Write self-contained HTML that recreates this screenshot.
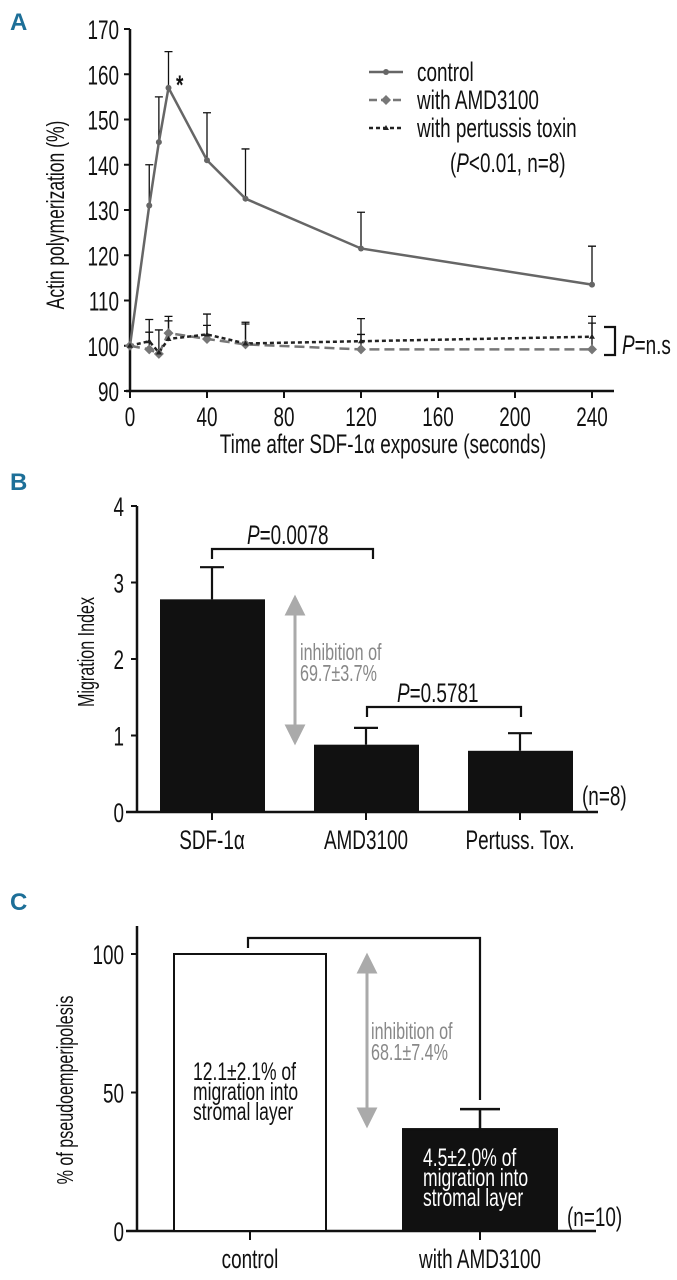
<!DOCTYPE html>
<html><head><meta charset="utf-8">
<style>
html,body{margin:0;padding:0;background:#fff;}
svg{display:block;font-family:"Liberation Sans",sans-serif;}
.t{font-size:27px;fill:#111;}
.s{font-size:23px;fill:#111;}
.a{font-size:25px;fill:#111;}
.g{font-size:23px;fill:#888;}
.pl{font-size:24px;font-weight:bold;fill:#1d6f98;}
</style></head>
<body>
<svg id="fig" width="677" height="1280" viewBox="0 0 677 1280" xmlns="http://www.w3.org/2000/svg"></svg>
<script>
// Panel A data
const aTimes=[0,10,15,20,40,60,120,240];
const aControl=[100,131,145,157,141,132.5,121.5,113.5];
const aControlErr=[100,140,155,165,151.5,143.5,129.5,122];
const aAmd=[100,99.2,98.2,102.8,101.5,100.3,99.2,99.2];
const aAmdErr=[100,103,103.5,106.5,107,105.2,106,106.5];
const aPert=[100,101,98.5,101.5,102.5,100.5,101,102];
const aPertErr=[100,105.8,98.5,105.5,104.5,104.8,102.5,105];
const aXTicks=[0,40,80,120,160,200,240];
const aYTicks=[90,100,110,120,130,140,150,160,170];
// Panel B data
const bCats=["SDF-1α","AMD3100","Pertuss. Tox."];
const bVals=[2.78,0.88,0.8];
const bErr=[3.2,1.1,1.03];
const bYTicks=[0,1,2,3,4];
// Panel C data
const cCats=["control","with AMD3100"];
const cVals=[100,36.8];
const cErr=[100,44];
const cYTicks=[0,50,100];

const NS="http://www.w3.org/2000/svg";
const svg=document.getElementById('fig');
function mk(tag,attrs,parent){const e=document.createElementNS(NS,tag);for(const k in attrs)e.setAttribute(k,attrs[k]);(parent||svg).appendChild(e);return e;}
function txt(s,attrs,parent){const e=mk('text',attrs,parent);e.textContent=s;return e;}

// ---------- Panel A ----------
const ax=v=>130+(v/240)*462;
const ay=v=>391-(v-90)*4.525;
let e;
e=txt('A',{x:10,y:30,class:'pl'});


e=mk('line',{x1:130,y1:ay(170),x2:130,y2:391,stroke:'#111','stroke-width':2.5});


e=mk('line',{x1:126,y1:391,x2:614,y2:391,stroke:'#111','stroke-width':2.5});


aYTicks.forEach(v=>{
 mk('line',{x1:124,y1:ay(v),x2:130,y2:ay(v),stroke:'#111','stroke-width':2});
 e=txt(String(v),{x:119,y:ay(v)+10,'text-anchor':'end',class:'t'});
 
 
});
aXTicks.forEach(v=>{
 mk('line',{x1:ax(v),y1:391,x2:ax(v),y2:398,stroke:'#111','stroke-width':2});
 e=txt(String(v),{x:ax(v),y:426,'text-anchor':'middle',class:'t'});
 
 
});
e=txt('Time after SDF-1α exposure (seconds)',{x:383,y:453,'text-anchor':'middle',class:'t'});


e=txt('Actin polymerization (%)',{x:0,y:0,'text-anchor':'middle',class:'a',transform:'translate(64,215) rotate(-90)'});



function errBars(vals,errs,name){
 aTimes.forEach((t,i)=>{
  if(errs[i]<=vals[i])return;
  e=mk('path',{d:`M${ax(t)},${ay(vals[i])}V${ay(errs[i])}M${ax(t)-4},${ay(errs[i])}H${ax(t)+4}`,stroke:'#111','stroke-width':1.3,fill:'none'});
  
  
 });
}
errBars(aControl,aControlErr,'control-error-bar');
errBars(aAmd,aAmdErr,'amd-error-bar');
errBars(aPert,aPertErr,'pertussis-error-bar');
function series(vals,stroke,dash,w,name){
 const d=aTimes.map((t,i)=>(i?'L':'M')+ax(t)+','+ay(vals[i])).join('');
 e=mk('path',{d:d,stroke:stroke,'stroke-width':w,fill:'none','stroke-dasharray':dash});
 
 
}
series(aAmd,'#777','10,5',2.5,'amd-line');
series(aPert,'#222','4,3',2.5,'pertussis-line');
series(aControl,'#666','',2.5,'control-line');
aTimes.forEach((t,i)=>{
 e=mk('circle',{cx:ax(t),cy:ay(aControl[i]),r:3,fill:'#666'});
 
 
 e=mk('path',{d:`M${ax(t)-5},${ay(aAmd[i])}l5,-5l5,5l-5,5z`,fill:'#777'});
 
 
 e=mk('path',{d:`M${ax(t)-3},${ay(aPert[i])+2}l3,-5l3,5z`,fill:'#222'});
 
 
});
e=txt('*',{x:176,y:94,class:'t','font-weight':'bold'});


// legend
const lg=[['control','#666','',0],['with AMD3100','#777','8,4',1],['with pertussis toxin','#222','4,3',2]];
lg.forEach((l,i)=>{
 const y=72+i*28;
 e=mk('line',{x1:369,y1:y,x2:403,y2:y,stroke:l[1],'stroke-width':2.5,'stroke-dasharray':l[2]});
 
 
 if(l[3]==0)mk('circle',{cx:386,cy:y,r:3,fill:l[1]});
 if(l[3]==1)mk('path',{d:`M381,${y}l5,-5l5,5l-5,5z`,fill:l[1]});
 if(l[3]==2)mk('path',{d:`M383,${y+2}l3,-5l3,5z`,fill:l[1]});
 e=txt(l[0],{x:417,y:y+9,class:'t'});
 
 
});
e=txt('',{x:450,y:172,class:'t'});
e.innerHTML='(<tspan font-style="italic">P</tspan>&lt;0.01, n=8)';


e=mk('path',{d:'M604,327H615V355H604',stroke:'#111','stroke-width':2.2,fill:'none'});


e=txt('',{x:622,y:354,class:'t'});
e.innerHTML='<tspan font-style="italic">P</tspan>=n.s';



// ---------- Panel B ----------
const by=v=>812-v*76.5;
const bx=[212,366,520];
e=txt('B',{x:10,y:490,class:'pl'});


e=mk('line',{x1:137,y1:by(4),x2:137,y2:812,stroke:'#111','stroke-width':2.5});


e=mk('line',{x1:126,y1:812,x2:598,y2:812,stroke:'#111','stroke-width':2.5});


bYTicks.forEach(v=>{
 mk('line',{x1:131,y1:by(v),x2:137,y2:by(v),stroke:'#111','stroke-width':2});
 e=txt(String(v),{x:124,y:by(v)+10,'text-anchor':'end',class:'t'});
 
 
});
bCats.forEach((c,i)=>{
 e=mk('rect',{x:bx[i]-52,y:by(bVals[i]),width:105,height:812-by(bVals[i]),fill:'#111'});
 
 
 e=mk('path',{d:`M${bx[i]},${by(bVals[i])}V${by(bErr[i])}M${bx[i]-12},${by(bErr[i])}H${bx[i]+12}`,stroke:'#111','stroke-width':2.2,fill:'none'});
 
 
 mk('line',{x1:bx[i],y1:812,x2:bx[i],y2:820,stroke:'#111','stroke-width':2});
 e=txt(c,{x:bx[i],y:849,'text-anchor':'middle',class:'t'});
 
 
});
e=txt('Migration Index',{x:0,y:0,'text-anchor':'middle',class:'s',transform:'translate(94,652) rotate(-90)'});


e=mk('path',{d:'M212,559V549H373V559',stroke:'#111','stroke-width':2.2,fill:'none'});


e=txt('',{x:247,y:544,class:'t'});
e.innerHTML='<tspan font-style="italic">P</tspan>=0.0078';


e=mk('path',{d:'M367,717V707H521V717',stroke:'#111','stroke-width':2.2,fill:'none'});


e=txt('',{x:397,y:702,class:'t'});
e.innerHTML='<tspan font-style="italic">P</tspan>=0.5781';


e=mk('path',{d:'M295,608V732M287,614L295,598L303,614ZM287,726L295,742L303,726Z',stroke:'#aaa','stroke-width':3,fill:'#aaa'});


e=txt('inhibition of',{x:300,y:660,class:'g'});


e=txt('69.7±3.7%',{x:300,y:681,class:'g'});


e=txt('(n=8)',{x:582,y:805,class:'t'});



// ---------- Panel C ----------
const cy=v=>1231-v*2.77;
const cx=[250,480];
const cw=[152,154];
const cl=[174,403];
e=txt('C',{x:10,y:910,class:'pl'});


e=mk('line',{x1:137,y1:926,x2:137,y2:1231,stroke:'#111','stroke-width':2.5});


e=mk('line',{x1:126,y1:1231,x2:596,y2:1231,stroke:'#111','stroke-width':2.5});


cYTicks.forEach(v=>{
 mk('line',{x1:131,y1:cy(v),x2:137,y2:cy(v),stroke:'#111','stroke-width':2});
 e=txt(String(v),{x:124,y:cy(v)+10,'text-anchor':'end',class:'t'});
 
 
});
cCats.forEach((c,i)=>{
 e=mk('rect',{x:cl[i],y:cy(cVals[i]),width:cw[i],height:1231-cy(cVals[i]),fill:i?'#111':'#fff',stroke:'#111','stroke-width':2});
 
 
 if(cErr[i]>cVals[i]){
  e=mk('path',{d:`M${cx[i]},${cy(cVals[i])}V${cy(cErr[i])}M${cx[i]-20},${cy(cErr[i])}H${cx[i]+20}`,stroke:'#111','stroke-width':2.5,fill:'none'});
  
  
 }
 mk('line',{x1:cx[i],y1:1231,x2:cx[i],y2:1240,stroke:'#111','stroke-width':2});
 e=txt(c,{x:cx[i],y:1268,'text-anchor':'middle',class:'t'});
 
 
});
e=txt('% of pseudoemperipolesis',{x:0,y:0,'text-anchor':'middle',class:'s',transform:'translate(73,1090) rotate(-90)'});


e=mk('path',{d:'M248,948V938H480V1100',stroke:'#111','stroke-width':2.2,fill:'none'});


e=mk('path',{d:'M367,966V1115M359,972L367,956L375,972ZM359,1109L367,1125L375,1109Z',stroke:'#aaa','stroke-width':3,fill:'#aaa'});


e=txt('inhibition of',{x:371,y:1039,class:'g'});


e=txt('68.1±7.4%',{x:371,y:1060,class:'g'});


['12.1±2.1% of','migration into','stromal layer'].forEach((s,i)=>{
 e=txt(s,{x:193,y:1080+i*20,class:'a'});
 
 
});
['4.5±2.0% of','migration into','stromal layer'].forEach((s,i)=>{
 e=txt(s,{x:423,y:1166+i*20,class:'a',style:'fill:#fff'});
 
 
});
e=txt('(n=10)',{x:567,y:1226,class:'t'});



// condense all text (reference uses a condensed face)
svg.querySelectorAll('text').forEach(t=>{
 if(t.classList.contains('pl'))return;
 const w=t.getComputedTextLength();
 if(w>0){t.setAttribute('textLength',(w*0.7).toFixed(1));t.setAttribute('lengthAdjust','spacingAndGlyphs');}
});
</script>
</body></html>
